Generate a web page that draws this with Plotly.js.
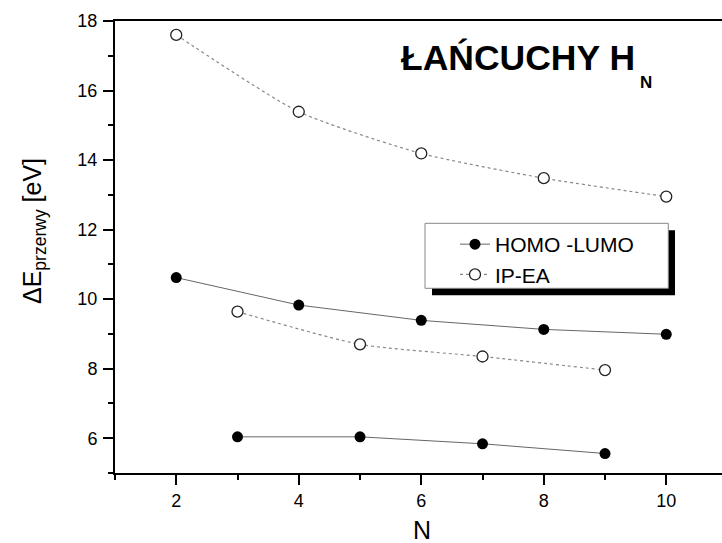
<!DOCTYPE html>
<html><head><meta charset="utf-8">
<script src="https://cdn.plot.ly/plotly-3.0.1.min.js"></script>
<style>html,body{margin:0;padding:0;background:#fff}#chart{width:722px;height:543px}</style>
</head><body><div id="chart"></div>
<script>
const nEven = [2, 4, 6, 8, 10];
const nOdd = [3, 5, 7, 9];
const homoLumoEven = [10.62, 9.83, 9.39, 9.13, 8.99];
const homoLumoOdd = [6.04, 6.04, 5.84, 5.56];
const ipEaEven = [17.6, 15.39, 14.19, 13.48, 12.95];
const ipEaOdd = [9.64, 8.70, 8.35, 7.96];
const seriesNames = ['HOMO -LUMO', 'IP-EA'];
const xTicks = [2, 4, 6, 8, 10];
const yTicks = [6, 8, 10, 12, 14, 16, 18];

const FONT = 'Liberation Sans, Arial, sans-serif';
const filled = {symbol: 'circle', size: 11, color: '#000', line: {width: 0}};
const open = {symbol: 'circle', size: 11, color: '#fff', line: {width: 1.3, color: '#222'}};
const solidLine = {color: '#666', width: 1};
const dotLine = {color: '#888', width: 1.2, dash: 'dot', shape: 'spline', smoothing: 0.6};

const traces = [
  {x: nEven, y: homoLumoEven, mode: 'lines+markers', name: seriesNames[0], marker: filled, line: solidLine},
  {x: nEven, y: ipEaEven, mode: 'lines+markers', name: seriesNames[1], marker: open, line: dotLine},
  {x: nOdd, y: homoLumoOdd, mode: 'lines+markers', name: seriesNames[0], showlegend: false, marker: filled, line: solidLine},
  {x: nOdd, y: ipEaOdd, mode: 'lines+markers', name: seriesNames[1], showlegend: false, marker: open, line: dotLine}
];

const W = 607, H = 452, L = 115, T = 21;
const px = v => (v - L) / W;
const py = v => (T + H - v) / H;

const layout = {
  width: 722, height: 543,
  margin: {l: 115, r: 0, t: 21, b: 70},
  paper_bgcolor: '#fff', plot_bgcolor: '#fff',
  font: {family: FONT, color: '#000'},
  showlegend: true,
  xaxis: {
    range: [1, 10.91], tickvals: xTicks, ticks: 'outside', ticklen: 10, tickwidth: 2, tickcolor: '#000',
    showline: true, linewidth: 2, linecolor: '#000', mirror: true, showgrid: false, zeroline: false,
    tickfont: {size: 18, family: FONT},
    minor: {ticks: 'outside', ticklen: 5, tickwidth: 2, tickcolor: '#000', dtick: 1, tick0: 1, showgrid: false}
  },
  yaxis: {
    range: [5, 18], tickvals: yTicks, ticks: 'outside', ticklen: 10, tickwidth: 2, tickcolor: '#000',
    showline: true, linewidth: 2, linecolor: '#000', mirror: false, showgrid: false, zeroline: false,
    tickfont: {size: 18, family: FONT}, ticklabelstandoff: 2,
    minor: {ticks: 'outside', ticklen: 5, tickwidth: 2, tickcolor: '#000', dtick: 1, tick0: 5, showgrid: false}
  },
  legend: {
    x: px(455), y: py(224), xanchor: 'left', yanchor: 'top',
    bgcolor: 'rgba(0,0,0,0)', borderwidth: 0, traceorder: 'normal',
    font: {size: 21, family: FONT}
  },
  shapes: [
    {type: 'rect', xref: 'paper', yref: 'paper', x0: px(432), x1: px(675), y0: py(295.3), y1: py(230.3), fillcolor: '#000', line: {width: 0}, layer: 'above'},
    {type: 'rect', xref: 'paper', yref: 'paper', x0: px(425), x1: px(668.3), y0: py(288.3), y1: py(223.3), fillcolor: '#fff', line: {width: 1, color: '#888'}, layer: 'above'}
  ],
  annotations: [
    {text: '<b>ŁAŃCUCHY H</b>', xref: 'paper', yref: 'paper', x: px(399), y: py(57.5), xanchor: 'left', yanchor: 'middle', showarrow: false, font: {size: 35.5, family: FONT}},
    {text: '<b>N</b>', xref: 'paper', yref: 'paper', x: px(646), y: py(82), xanchor: 'center', yanchor: 'middle', showarrow: false, font: {size: 17, family: FONT}},
    {text: 'ΔE<sub>przerwy</sub> [eV]', xref: 'paper', yref: 'paper', x: px(34), y: py(231), xanchor: 'center', yanchor: 'middle', textangle: -90, showarrow: false, font: {size: 25, family: FONT}},
    {text: 'N', xref: 'paper', yref: 'paper', x: px(421.5), y: py(530), xanchor: 'center', yanchor: 'middle', showarrow: false, font: {size: 25, family: FONT}}
  ]
};

Plotly.newPlot('chart', traces, layout, {displayModeBar: false, staticPlot: true});
</script>
</body></html>
